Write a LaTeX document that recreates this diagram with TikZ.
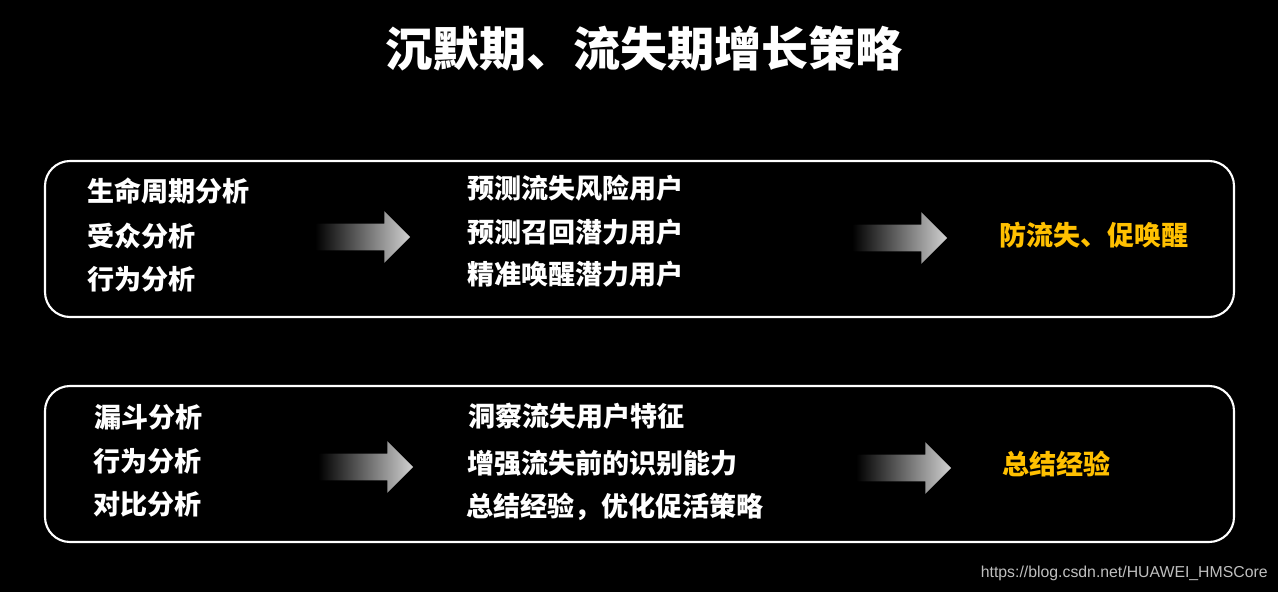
\documentclass[tikz,border=0pt]{standalone}
\usepackage{fontspec}
\setmainfont{Noto Sans CJK SC}
\newfontfamily\urlfont{Liberation Sans}
\usetikzlibrary{shapes.arrows}
\definecolor{hmsgold}{HTML}{FFC000}
\tikzset{
  rowtext/.style={anchor=west, text=white, font=\fontsize{15.4}{18}\selectfont\bfseries, inner sep=0pt},
  goaltext/.style={rowtext, text=hmsgold},
  stagebox/.style={draw=white, line width=1.2pt, rounded corners=0.5cm},
  fadearrow/.style={single arrow, minimum width=1.02cm, minimum height=1.9cm,
    single arrow head extend=0.25cm, single arrow head indent=0pt, inner sep=0pt,
    left color=black, right color=white!82!black, draw=none}
}
\begin{document}
\begin{tikzpicture}[x=0.02cm, y=-0.02cm]
  % background and frame
  \fill[black] (0,0) rectangle (1278,592);
  \useasboundingbox (0,0) rectangle (1278,592);
  % title
  \node[text=white, font=\fontsize{26.8}{30}\selectfont\bfseries] (title) at (644,48) {沉默期、流失期增长策略};
  % upper stage
  \draw[stagebox] (45,161) rectangle (1234,317);
  \node[rowtext] (ana1) at (87,191) {生命周期分析};
  \node[rowtext] (ana2) at (87,236) {受众分析};
  \node[rowtext] (ana3) at (87,279) {行为分析};
  \node[fadearrow] (arr1) at (356,237) {\rule{0pt}{0.52cm}};
  \node[rowtext] (pre1) at (467,188) {预测流失风险用户};
  \node[rowtext] (pre2) at (467,232) {预测召回潜力用户};
  \node[rowtext] (pre3) at (467,274) {精准唤醒潜力用户};
  \node[fadearrow] (arr2) at (893,238) {\rule{0pt}{0.52cm}};
  \node[goaltext] (goal1) at (999,235) {防流失、促唤醒};
  % lower stage
  \draw[stagebox] (45,386) rectangle (1234,542);
  \node[rowtext] (ana4) at (94,417) {漏斗分析};
  \node[rowtext] (ana5) at (93,461) {行为分析};
  \node[rowtext] (ana6) at (93,504) {对比分析};
  \node[fadearrow] (arr3) at (359,467) {\rule{0pt}{0.52cm}};
  \node[rowtext] (ins1) at (468,416) {洞察流失用户特征};
  \node[rowtext] (ins2) at (467,463) {增强流失前的识别能力};
  \node[rowtext] (ins3) at (466,507) {总结经验，优化促活策略};
  \node[fadearrow] (arr4) at (897,468) {\rule{0pt}{0.52cm}};
  \node[goaltext] (goal2) at (1002,464) {总结经验};
  % watermark
  \node[anchor=east, text=white!75!black, font=\urlfont\fontsize{9}{10}\selectfont, inner sep=0pt] (mark) at (1268,573) {https://blog.csdn.net/HUAWEI\_HMSCore};
\end{tikzpicture}
\end{document}
